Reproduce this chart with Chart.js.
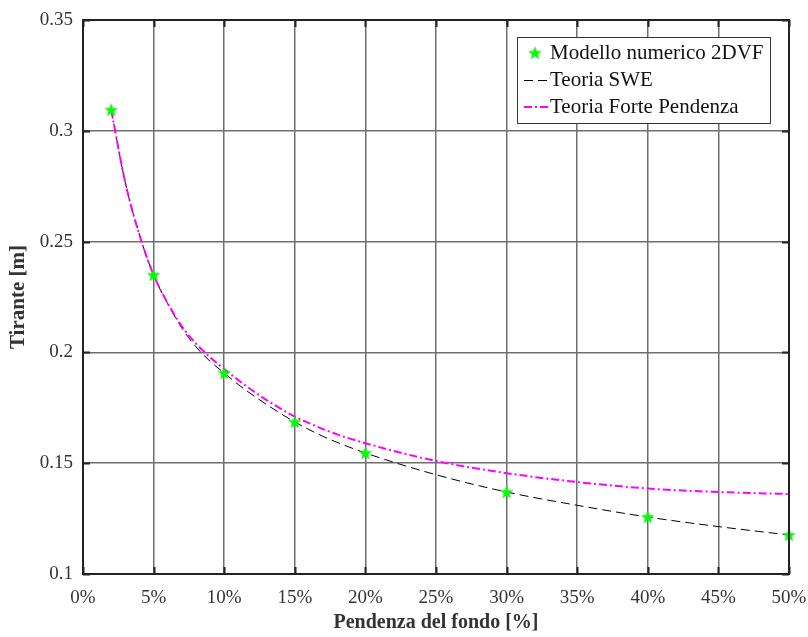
<!DOCTYPE html>
<html>
<head>
<meta charset="utf-8">
<script src="https://cdn.jsdelivr.net/npm/chart.js@4"></script>
<style>
  html, body { margin: 0; padding: 0; background: #fff; }
  #wrap { width: 808px; height: 637px; }
</style>
</head>
<body>
<div id="wrap"><canvas id="c" width="808" height="637"></canvas></div>
<script>
// ---- data ----
const numX = [2, 5, 10, 15, 20, 30, 40, 50];
const numY = [0.3094, 0.2349, 0.1907, 0.1686, 0.1546, 0.1370, 0.1257, 0.1176];

const sweX = [2, 3, 4, 5, 6, 7, 8, 9, 10, 11, 12, 13, 14, 15, 16, 17, 18, 20, 25, 30, 35, 40, 45, 50];
const sweY = [0.3094, 0.2765, 0.2530, 0.2349, 0.2220, 0.2110, 0.2025, 0.1960, 0.1907, 0.1855, 0.1808, 0.1765, 0.1724, 0.1686, 0.1652, 0.1621, 0.1594, 0.1546, 0.1448, 0.1370, 0.1310, 0.1257, 0.1214, 0.1176];

const fpX = [2, 3, 4, 5, 6, 7, 8, 9, 10, 11, 12, 13, 14, 15, 16, 17, 18, 20, 25, 30, 35, 40, 45, 50];
const fpY = [0.3094, 0.2765, 0.2530, 0.2350, 0.2222, 0.2118, 0.2040, 0.1978, 0.1925, 0.1875, 0.1828, 0.1785, 0.1746, 0.1710, 0.1681, 0.1654, 0.1630, 0.1590, 0.1510, 0.1455, 0.1415, 0.1386, 0.1370, 0.1361];

const xTicks = [0, 5, 10, 15, 20, 25, 30, 35, 40, 45, 50];
const xTickLabels = ['0%', '5%', '10%', '15%', '20%', '25%', '30%', '35%', '40%', '45%', '50%'];
const yTicks = [0.1, 0.15, 0.2, 0.25, 0.3, 0.35];
const yTickLabels = ['0.1', '0.15', '0.2', '0.25', '0.3', '0.35'];

const seriesNames = ['Modello numerico 2DVF', 'Teoria SWE', 'Teoria Forte Pendenza'];

// ---- star marker ----
function makeStar(r, color) {
  const s = Math.ceil(r * 2 + 2);
  const cv = document.createElement('canvas');
  cv.width = s; cv.height = s;
  const g = cv.getContext('2d');
  g.beginPath();
  for (let i = 0; i < 10; i++) {
    const rad = i % 2 === 0 ? r : r * 0.42;
    const a = -Math.PI / 2 + i * Math.PI / 5;
    const px = s / 2 + rad * Math.cos(a), py = s / 2 + 0.5 + rad * Math.sin(a);
    if (i === 0) g.moveTo(px, py); else g.lineTo(px, py);
  }
  g.closePath();
  g.fillStyle = color;
  g.fill();
  g.strokeStyle = '#22dd22';
  g.lineWidth = 0.6;
  g.stroke();
  return cv;
}
const starImg = makeStar(6.5, '#00ff00');

const FONT = "'Liberation Serif', 'DejaVu Serif', serif";

const toPts = (xs, ys) => xs.map((x, i) => ({ x: x, y: ys[i] }));

// ---- plugins ----
const framePlugin = {
  id: 'frame',
  afterDatasetsDraw(chart) {
    const { ctx, chartArea: a, scales } = chart;
    ctx.save();
    ctx.strokeStyle = '#222';
    ctx.lineWidth = 2;
    ctx.beginPath();
    xTicks.forEach(v => {
      const px = Math.round(scales.x.getPixelForValue(v)) + 0.5;
      ctx.moveTo(px, a.bottom); ctx.lineTo(px, a.bottom - 7);
      ctx.moveTo(px, a.top); ctx.lineTo(px, a.top + 7);
    });
    yTicks.forEach(v => {
      const py = Math.round(scales.y.getPixelForValue(v)) + 0.5;
      ctx.moveTo(a.left, py); ctx.lineTo(a.left + 7, py);
      ctx.moveTo(a.right, py); ctx.lineTo(a.right - 7, py);
    });
    ctx.stroke();
    ctx.strokeStyle = '#222';
    ctx.lineWidth = 2;
    ctx.strokeRect(a.left, a.top, a.right - a.left, a.bottom - a.top);
    ctx.restore();
  },
  afterDraw(chart) {
    const { ctx } = chart;
    const bx = 517, by = 37, bw = 253, bh = 86;
    ctx.save();
    ctx.fillStyle = '#fff';
    ctx.fillRect(bx, by, bw, bh);
    ctx.strokeStyle = '#333';
    ctx.lineWidth = 1;
    ctx.strokeRect(bx + 0.5, by + 0.5, bw, bh);
    ctx.font = '21px ' + FONT;
    ctx.fillStyle = '#111';
    ctx.textBaseline = 'middle';
    const rows = [53, 80, 107];
    const tx = 550;
    ctx.drawImage(starImg, 535 - starImg.width / 2, rows[0] - starImg.height / 2);
    ctx.fillText(seriesNames[0], tx, rows[0]);
    ctx.strokeStyle = '#000';
    ctx.lineWidth = 1;
    ctx.setLineDash([9, 5]);
    ctx.beginPath(); ctx.moveTo(524, rows[1] + 0.5); ctx.lineTo(548, rows[1] + 0.5); ctx.stroke();
    ctx.fillText(seriesNames[1], tx, rows[1]);
    ctx.strokeStyle = '#ff00ff';
    ctx.lineWidth = 2;
    ctx.setLineDash([8, 3, 2, 3]);
    ctx.beginPath(); ctx.moveTo(524, rows[2]); ctx.lineTo(548, rows[2]); ctx.stroke();
    ctx.setLineDash([]);
    ctx.fillText(seriesNames[2], tx, rows[2]);
    ctx.restore();
  }
};

new Chart(document.getElementById('c'), {
  type: 'scatter',
  data: {
    datasets: [
      {
        label: seriesNames[0],
        data: toPts(numX, numY),
        showLine: false,
        pointStyle: starImg,
        pointRadius: 7,
        clip: false,
        order: 0
      },
      {
        label: seriesNames[2],
        data: toPts(fpX, fpY),
        showLine: true,
        borderColor: '#ff00ff',
        borderWidth: 2,
        borderDash: [8, 3, 2, 3],
        pointRadius: 0,
        cubicInterpolationMode: 'monotone',
        order: 1
      },
      {
        label: seriesNames[1],
        data: toPts(sweX, sweY),
        showLine: true,
        borderColor: '#000000',
        borderWidth: 1,
        borderDash: [9, 5],
        pointRadius: 0,
        cubicInterpolationMode: 'monotone',
        order: 2
      }
    ]
  },
  options: {
    responsive: false,
    animation: false,
    layout: { padding: { top: 20, right: 19, left: 0, bottom: 0 } },
    plugins: { legend: { display: false }, tooltip: { enabled: false } },
    scales: {
      x: {
        type: 'linear',
        min: 0, max: 50,
        afterBuildTicks(scale) { scale.ticks = xTicks.map(v => ({ value: v })); },
        afterFit(scale) { scale.height = 63; scale.paddingLeft = 0; scale.paddingRight = 0; },
        ticks: {
          callback: (v) => xTickLabels[xTicks.indexOf(v)],
          font: { family: FONT, size: 19 },
          color: '#333',
          padding: 13,
          maxRotation: 0
        },
        grid: { color: '#6f6f6f', lineWidth: 1.5, drawTicks: false },
        border: { display: false },
        title: {
          display: true,
          text: 'Pendenza del fondo [%]',
          font: { family: FONT, size: 20, weight: 'bold' },
          color: '#333',
          padding: { top: 0, bottom: 2 }
        }
      },
      y: {
        type: 'linear',
        min: 0.1, max: 0.35,
        afterBuildTicks(scale) { scale.ticks = yTicks.map(v => ({ value: v })); },
        afterFit(scale) { scale.width = 83; scale.paddingTop = 0; scale.paddingBottom = 0; },
        ticks: {
          callback: (v) => yTickLabels[yTicks.findIndex(t => Math.abs(t - v) < 1e-9)],
          font: { family: FONT, size: 19 },
          color: '#333',
          padding: 10
        },
        grid: { color: '#6f6f6f', lineWidth: 1.5, drawTicks: false },
        border: { display: false },
        title: {
          display: true,
          text: 'Tirante [m]',
          font: { family: FONT, size: 21, weight: 'bold' },
          color: '#333',
          padding: { top: 6, bottom: 0 }
        }
      }
    }
  },
  plugins: [framePlugin]
});
</script>
</body>
</html>
